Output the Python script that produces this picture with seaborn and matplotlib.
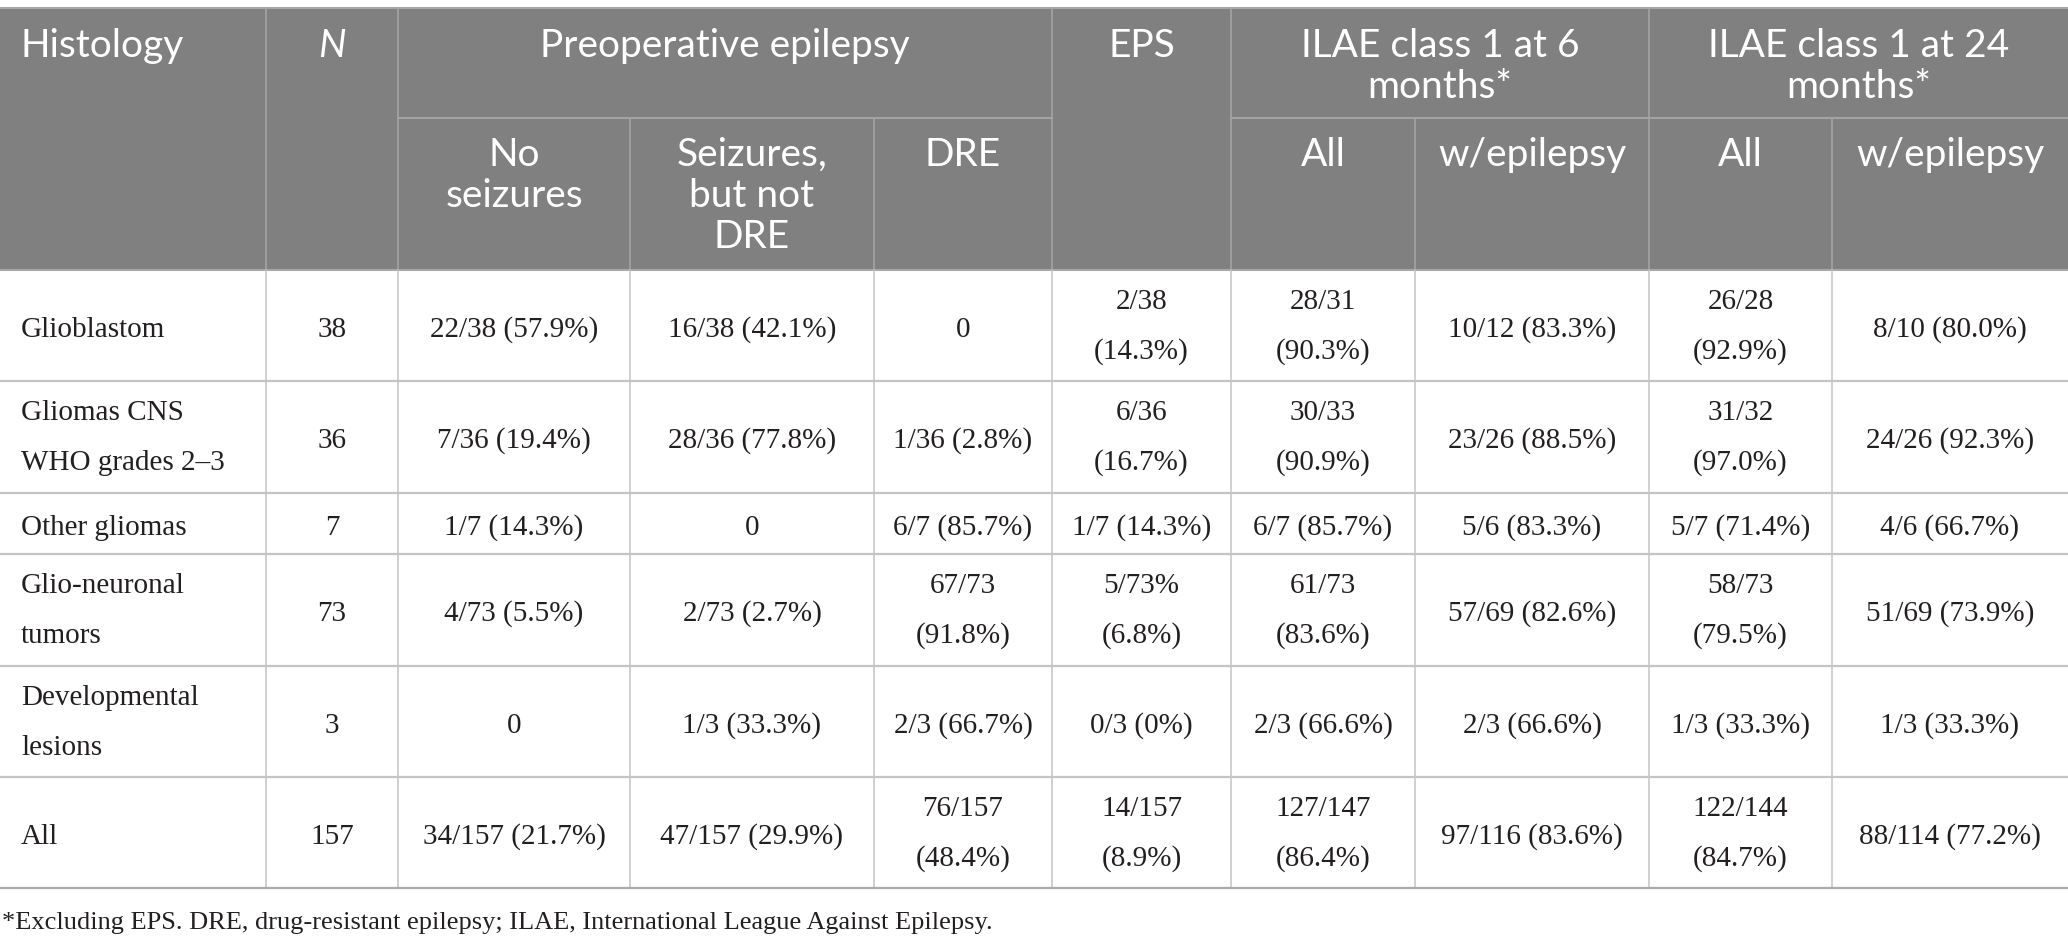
import matplotlib
matplotlib.use("Agg")
import matplotlib.pyplot as plt
from matplotlib.patches import Rectangle
import pandas as pd
import seaborn as sns

# -----------------------------
# 1. Table contents
# -----------------------------
histology = ["Glioblastom", "Gliomas CNS\nWHO grades 2–3", "Other gliomas",
             "Glio-neuronal\ntumors", "Developmental\nlesions", "All"]
n_patients = [38, 36, 7, 73, 3, 157]
no_seizures = ["22/38 (57.9%)", "7/36 (19.4%)", "1/7 (14.3%)", "4/73 (5.5%)", "0", "34/157 (21.7%)"]
seizures_not_dre = ["16/38 (42.1%)", "28/36 (77.8%)", "0", "2/73 (2.7%)", "1/3 (33.3%)", "47/157 (29.9%)"]
dre = ["0", "1/36 (2.8%)", "6/7 (85.7%)", "67/73\n(91.8%)", "2/3 (66.7%)", "76/157\n(48.4%)"]
eps = ["2/38\n(14.3%)", "6/36\n(16.7%)", "1/7 (14.3%)", "5/73%\n(6.8%)", "0/3 (0%)", "14/157\n(8.9%)"]
ilae6_all = ["28/31\n(90.3%)", "30/33\n(90.9%)", "6/7 (85.7%)", "61/73\n(83.6%)", "2/3 (66.6%)", "127/147\n(86.4%)"]
ilae6_epi = ["10/12 (83.3%)", "23/26 (88.5%)", "5/6 (83.3%)", "57/69 (82.6%)", "2/3 (66.6%)", "97/116 (83.6%)"]
ilae24_all = ["26/28\n(92.9%)", "31/32\n(97.0%)", "5/7 (71.4%)", "58/73\n(79.5%)", "1/3 (33.3%)", "122/144\n(84.7%)"]
ilae24_epi = ["8/10 (80.0%)", "24/26 (92.3%)", "4/6 (66.7%)", "51/69 (73.9%)", "1/3 (33.3%)", "88/114 (77.2%)"]

sub_headers = ["No\nseizures", "Seizures,\nbut not\nDRE", "DRE", "All", "w/epilepsy", "All", "w/epilepsy"]
footnote = "*Excluding EPS. DRE, drug-resistant epilepsy; ILAE, International League Against Epilepsy."

df = pd.DataFrame({
    "histology": histology, "n": [str(v) for v in n_patients],
    "no_seiz": no_seizures, "seiz": seizures_not_dre, "dre": dre, "eps": eps,
    "i6_all": ilae6_all, "i6_epi": ilae6_epi, "i24_all": ilae24_all, "i24_epi": ilae24_epi,
})

# -----------------------------
# 2. Layout (pixel grid)
# -----------------------------
W, H = 2068, 947
col_x = [0, 266, 398, 630, 874, 1052, 1231, 1415, 1649, 1832, 2068]
row_y = [270, 381, 493, 554, 666, 777, 888]
head_top, head_mid, head_bot = 9, 118, 270

HEAD_BG = "#808080"
HEAD_LINE = "#a3a3a3"
BODY_LINE = "#c4c4c4"
TXT = "#231f20"
SANS = "Lato"
SERIF = "Liberation Serif"
head_fs, body_fs, foot_fs = 28, 21, 19
head_step, body_step = 41, 50

sns.set_theme(style="white")
fig = plt.figure(figsize=(W / 100, H / 100), dpi=100)
ax = fig.add_axes([0, 0, 1, 1])
ax.set_xlim(0, W)
ax.set_ylim(H, 0)
ax.axis("off")

# header background
ax.add_patch(Rectangle((0, head_top), W, head_bot - head_top, color=HEAD_BG, lw=0))


def header_text(x, y_top, s, ha="center", **kw):
    for k, line in enumerate(s.split("\n")):
        ax.text(x, y_top + 48 + k * head_step, line, ha=ha, va="baseline",
                color="white", fontsize=head_fs, family=SANS, **kw)


def cx(i, j=None):
    j = i if j is None else j
    return (col_x[i] + col_x[j + 1]) / 2


header_text(21, head_top, "Histology", ha="left")
header_text(cx(1), head_top, "N", style="italic")
header_text(cx(2, 4), head_top, "Preoperative epilepsy")
header_text(cx(5), head_top, "EPS")
header_text(cx(6, 7), head_top, "ILAE class 1 at 6\nmonths*")
header_text(cx(8, 9), head_top, "ILAE class 1 at 24\nmonths*")
for k, s in enumerate(sub_headers):
    header_text(cx([2, 3, 4, 6, 7, 8, 9][k]), head_mid, s)

# header lines
for x in [266, 398, 1052, 1231, 1649]:
    ax.plot([x, x], [head_top, head_bot], color=HEAD_LINE, lw=1.2)
for x in [630, 874, 1415, 1832]:
    ax.plot([x, x], [head_mid, head_bot], color=HEAD_LINE, lw=1.2)
ax.plot([398, 1052], [head_mid, head_mid], color=HEAD_LINE, lw=1.5)
ax.plot([1231, W], [head_mid, head_mid], color=HEAD_LINE, lw=1.5)
ax.plot([0, W], [head_top - 1, head_top - 1], color="#a8a8a8", lw=1.5)
ax.plot([0, W], [head_bot, head_bot], color="#a8a8a8", lw=1.5)

# body lines
for x in col_x[1:-1]:
    ax.plot([x, x], [head_bot, row_y[-1]], color=BODY_LINE, lw=1.1)
for y in row_y[1:]:
    ax.plot([0, W], [y, y], color=BODY_LINE if y != row_y[-1] else "#aaaaaa", lw=1.6)

# body text
cols = list(df.columns)
for r in range(len(df)):
    yc = (row_y[r] + row_y[r + 1]) / 2
    for c, name in enumerate(cols):
        lines = df.loc[r, name].split("\n")
        n = len(lines)
        shift = 11 if n == 1 else 8
        for k, line in enumerate(lines):
            y = yc + (k - (n - 1) / 2) * body_step + shift
            if c == 0:
                ax.text(21, y, line, ha="left", va="baseline", color=TXT,
                        fontsize=body_fs, family=SERIF)
            else:
                ax.text(cx(c), y, line, ha="center", va="baseline", color=TXT,
                        fontsize=body_fs, family=SERIF)

ax.text(2, 923, footnote, ha="left", va="center", color=TXT, fontsize=foot_fs, family=SERIF)

fig.savefig("out.png", dpi=100)
